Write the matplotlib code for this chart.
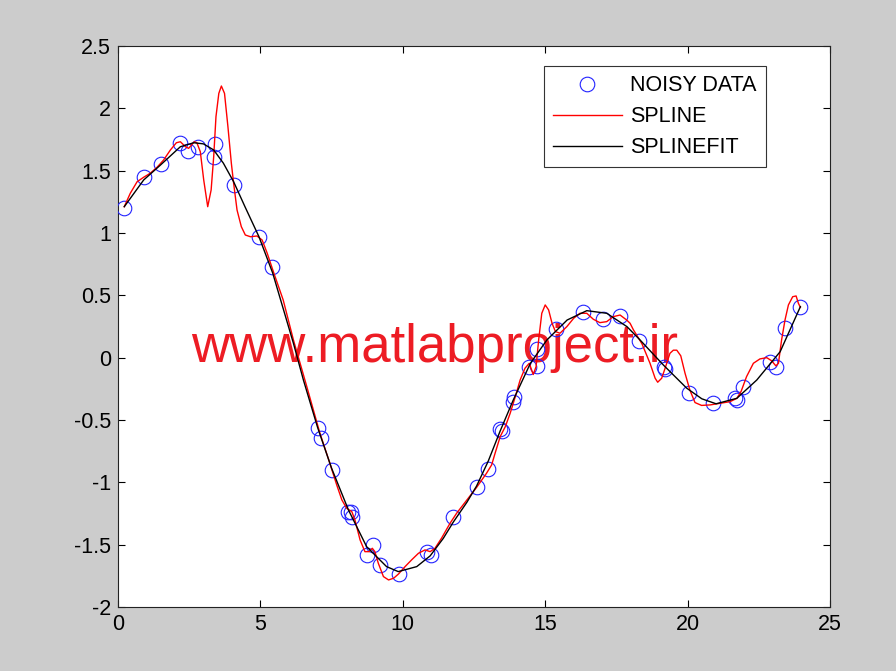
import matplotlib
matplotlib.use('Agg')
import matplotlib.pyplot as plt

plt.rcParams['font.family'] = ['Liberation Sans', 'DejaVu Sans']
plt.rcParams['axes.unicode_minus'] = False

# Noisy data points
data_x = [0.21, 0.92, 1.50, 2.19, 2.46, 2.82, 3.37, 3.41, 4.06, 4.94, 5.41,
          7.01, 7.14, 7.50, 8.07, 8.17, 8.21, 8.75, 8.94, 9.20, 9.88,
          10.84, 10.98, 11.76, 12.59, 12.99, 13.42, 13.48, 13.86, 13.90,
          14.42, 14.72, 14.70, 15.38, 16.32, 17.03, 17.64, 18.28, 19.17,
          19.20, 20.04, 20.90, 21.67, 21.72, 21.93, 22.89, 23.09, 23.43, 23.96]
data_y = [1.198, 1.447, 1.556, 1.719, 1.655, 1.692, 1.607, 1.714, 1.385, 0.966, 0.725,
          -0.561, -0.646, -0.903, -1.235, -1.240, -1.280, -1.580, -1.500, -1.665, -1.735,
          -1.561, -1.580, -1.277, -1.034, -0.895, -0.572, -0.585, -0.355, -0.313,
          -0.077, -0.064, 0.070, 0.233, 0.366, 0.310, 0.334, 0.130, -0.077,
          -0.087, -0.285, -0.363, -0.326, -0.337, -0.237, -0.034, -0.077, 0.236, 0.404]

# Interpolating spline
spline_x = [0.22, 0.43, 0.67, 0.90, 1.13, 1.37, 1.60, 1.84, 2.05, 2.19, 2.37, 2.48,
            2.68, 2.77, 2.89, 3.01, 3.15, 3.27, 3.36, 3.44, 3.54, 3.63, 3.74, 3.86,
            3.98, 4.06, 4.18, 4.33, 4.47, 4.65, 4.88, 5.06, 5.24, 5.47, 5.80, 6.16,
            6.63, 7.09, 7.40, 7.68, 7.86, 8.03, 8.21, 8.32, 8.50, 8.67, 8.82, 8.93,
            9.02, 9.14, 9.32, 9.50, 9.68, 9.85, 10.08, 10.31, 10.55, 10.78, 10.96,
            11.13, 11.36, 11.66, 11.89, 12.25, 12.59, 12.94, 13.12, 13.24, 13.42,
            13.60, 13.77, 13.95, 14.12, 14.29, 14.44, 14.58, 14.68, 14.77, 14.88,
            15.00, 15.12, 15.24, 15.36, 15.52, 15.76, 16.00, 16.22, 16.46, 16.69,
            16.92, 17.16, 17.39, 17.63, 17.86, 17.98, 18.10, 18.21, 18.40, 18.68,
            18.86, 18.95, 19.09, 19.21, 19.38, 19.50, 19.62, 19.76, 19.91, 20.08,
            20.26, 20.49, 20.79, 21.14, 21.49, 21.73, 21.88, 22.07, 22.31, 22.54,
            22.78, 22.95, 23.10, 23.19, 23.30, 23.42, 23.54, 23.69, 23.81, 23.89, 23.96]
spline_y = [1.211, 1.318, 1.411, 1.447, 1.479, 1.527, 1.585, 1.666, 1.724, 1.732, 1.692, 1.679,
            1.732, 1.724, 1.652, 1.425, 1.211, 1.345, 1.612, 1.933, 2.120, 2.179, 2.120, 1.852,
            1.559, 1.399, 1.184, 1.051, 0.984, 0.970, 0.976, 0.944, 0.837, 0.680, 0.463, 0.142,
            -0.233, -0.606, -0.820, -1.021, -1.141, -1.208, -1.235, -1.302, -1.462, -1.556, -1.556, -1.529,
            -1.556, -1.649, -1.756, -1.783, -1.769, -1.735, -1.676, -1.622, -1.569, -1.542, -1.556,
            -1.529, -1.448, -1.328, -1.248, -1.141, -1.041, -0.927, -0.860, -0.767, -0.633,
            -0.553, -0.446, -0.313, -0.179, -0.085, -0.045, -0.135, -0.072, 0.142, 0.356,
            0.423, 0.383, 0.276, 0.209, 0.196, 0.249, 0.316, 0.356, 0.356, 0.308,
            0.281, 0.289, 0.329, 0.342, 0.302, 0.276, 0.222, 0.182, 0.110, -0.045,
            -0.165, -0.197, -0.165, -0.085, 0.035, 0.060, 0.060, 0.015, -0.125, -0.260,
            -0.360, -0.383, -0.379, -0.366, -0.353, -0.326, -0.270, -0.152, -0.045, -0.010,
            0.000, -0.025, -0.066, -0.045, 0.142, 0.302, 0.423, 0.489, 0.495, 0.436, 0.404]

# Smoothing spline fit
fit_x = [0.22, 0.90, 1.49, 2.19, 2.66, 3.00, 3.36, 3.70, 4.06, 4.46, 4.95, 5.43,
         6.16, 6.51, 7.01, 7.50, 8.09, 8.73, 9.43, 9.84, 10.49, 10.96, 11.42,
         11.77, 12.25, 12.59, 13.00, 13.41, 13.88, 14.48, 15.06, 15.77, 16.46,
         17.16, 17.87, 18.33, 19.15, 19.97, 20.50, 21.00, 21.73, 22.43, 23.25, 23.96]
fit_y = [1.211, 1.425, 1.545, 1.692, 1.724, 1.715, 1.666, 1.560, 1.411, 1.210, 0.970, 0.680,
         0.115, -0.179, -0.561, -0.887, -1.221, -1.516, -1.676, -1.716, -1.676, -1.590, -1.450,
         -1.320, -1.160, -1.030, -0.830, -0.593, -0.339, -0.045, 0.142, 0.302, 0.377,
         0.356, 0.249, 0.142, -0.059, -0.245, -0.330, -0.370, -0.326, -0.179, 0.048, 0.409]

x_ticks = [0, 5, 10, 15, 20, 25]
x_tick_labels = ['0', '5', '10', '15', '20', '25']
y_ticks = [-2, -1.5, -1, -0.5, 0, 0.5, 1, 1.5, 2, 2.5]
y_tick_labels = ['-2', '-1.5', '-1', '-0.5', '0', '0.5', '1', '1.5', '2', '2.5']

fig = plt.figure(figsize=(8.96, 6.71), dpi=100, facecolor='#cccccc')
ax = fig.add_axes([118 / 896, 1 - 607 / 671, 712 / 896, 561 / 671])
ax.set_facecolor('white')

ax.plot(data_x, data_y, 'o', mfc='none', mec='#2222ff', ms=10.5, mew=0.8,
        label='NOISY DATA', zorder=3)
ax.plot(spline_x, spline_y, color='#ff0000', lw=1.0, label='SPLINE', zorder=3)
ax.plot(fit_x, fit_y, color='black', lw=1.0, label='SPLINEFIT', zorder=3)

ax.text(11.13, -0.035, 'www.matlabproject.ir', color='#ed1c24', fontsize=38,
        ha='center', va='baseline', zorder=1.5)

ax.set_xlim(0, 25)
ax.set_ylim(-2, 2.5)
ax.set_xticks(x_ticks)
ax.set_xticklabels(x_tick_labels)
ax.set_yticks(y_ticks)
ax.set_yticklabels(y_tick_labels)
ax.tick_params(direction='in', top=True, right=True, length=5, width=0.8,
               labelsize=15.5, pad=5)
for s in ax.spines.values():
    s.set_linewidth(0.8)
    s.set_color('#222222')

leg = ax.legend(loc='upper right', bbox_to_anchor=(0.910, 0.964), borderaxespad=0,
                fancybox=False, edgecolor='#333333', framealpha=1, fontsize=15.5,
                handlelength=3.2, handletextpad=0.4, numpoints=1,
                labelspacing=0.46, borderpad=0.42)
leg.get_frame().set_linewidth(0.8)

fig.savefig('out.png', dpi=100, facecolor=fig.get_facecolor())
